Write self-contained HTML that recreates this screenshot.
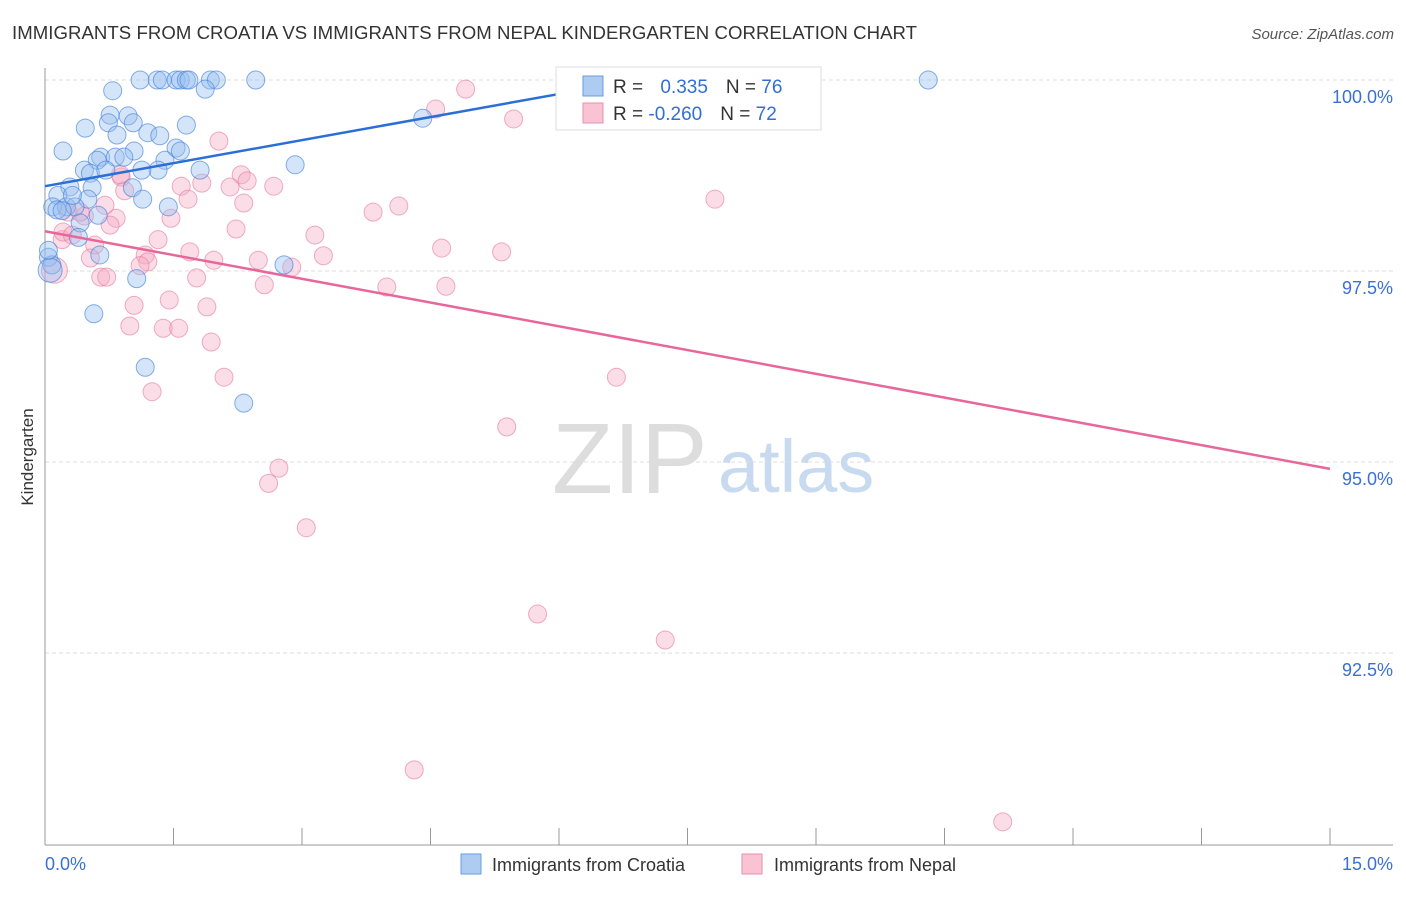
<!DOCTYPE html>
<html><head><meta charset="utf-8"><style>
body{margin:0;background:#fff;font-family:"Liberation Sans",sans-serif;}
svg text{font-family:"Liberation Sans",sans-serif;}
</style></head><body>
<svg id="chart" width="1406" height="892">
<text x="12" y="39" font-size="18.6" fill="#333" textLength="905">IMMIGRANTS FROM CROATIA VS IMMIGRANTS FROM NEPAL KINDERGARTEN CORRELATION CHART</text>
<text x="1394" y="39" font-size="15" fill="#555" font-style="italic" text-anchor="end">Source: ZipAtlas.com</text>
<text x="33" y="457" font-size="17" fill="#333" text-anchor="middle" transform="rotate(-90 33 457)">Kindergarten</text>
<text x="552" y="493" font-size="100" fill="#ddd" font-family="Liberation Serif">ZIP</text>
<text x="718" y="492" font-size="74" fill="#c8daf0">atlas</text>
<g id="grid"></g><g id="axes"></g><g id="pts"></g><g id="trends"></g>
<g>
<rect x="556" y="67" width="265" height="63" fill="#fff" stroke="#ddd"/>
<rect x="583" y="76" width="20" height="20" fill="#aecbf2" stroke="#6a9ce0"/>
<rect x="583" y="103" width="20" height="20" fill="#f9c3d3" stroke="#e891ae"/>
<text x="613" y="93" font-size="19" fill="#333">R = <tspan fill="#2f6fd6" dx="12">0.335</tspan><tspan dx="18" fill="#333">N = </tspan><tspan fill="#2f6fd6">76</tspan></text>
<text x="613" y="120" font-size="19" fill="#333">R = <tspan fill="#2f6fd6">-0.260</tspan><tspan dx="18" fill="#333">N = </tspan><tspan fill="#2f6fd6">72</tspan></text>
</g>
<g>
<rect x="461" y="854" width="20" height="20" fill="#aecbf2" stroke="#6a9ce0"/>
<text x="492" y="871" font-size="18" fill="#333">Immigrants from Croatia</text>
<rect x="742" y="854" width="20" height="20" fill="#f9c3d3" stroke="#e891ae"/>
<text x="774" y="871" font-size="18" fill="#333">Immigrants from Nepal</text>
</g>
</svg>
<script>
const yTicks=[100,97.5,95,92.5];
const yTickLabels=["100.0%","97.5%","95.0%","92.5%"];
const xTickCount=10;
const xEndLabels=["0.0%","15.0%"];
const croatiaX=[1.11,1.31,1.37,1.53,1.58,1.65,1.68,1.93,2.00,2.46,10.31,0.79,1.87,0.76,0.97,0.74,1.03,1.65,0.47,0.84,1.20,1.34,1.53,1.58,0.21,1.04,0.65,0.82,0.61,1.40,0.92,1.81,2.92,0.46,1.32,0.53,0.71,0.29,0.55,1.02,1.13,0.15,0.50,1.14,0.09,0.25,0.35,1.44,0.14,0.62,0.41,0.39,0.64,0.04,0.08,2.79,1.07,0.57,1.17,2.32,4.41,0.06,0.04,0.20,0.32];
const croatiaY=[100,100,100,100,100,100,100,100,100,100,100,99.86,99.88,99.54,99.53,99.44,99.44,99.41,99.37,99.28,99.31,99.27,99.11,99.07,99.07,99.07,98.99,98.99,98.95,98.95,98.99,98.82,98.89,98.82,98.82,98.78,98.82,98.60,98.59,98.59,98.82,98.49,98.44,98.44,98.34,98.34,98.34,98.34,98.30,98.23,98.13,97.94,97.71,97.68,97.58,97.58,97.40,96.94,96.24,95.77,99.50,97.51,97.77,98.29,98.49];
const nepalX=[6.20,6.79,7.53,6.32,4.56,4.91,5.47,2.03,7.82,4.13,3.83,1.59,1.83,2.67,2.29,2.36,2.16,2.32,1.67,1.47,0.89,0.93,0.83,0.76,0.27,0.46,0.58,1.32,1.69,3.15,3.25,2.23,4.63,5.33,1.17,1.20,1.11,1.97,2.49,2.88,2.56,3.99,4.68,1.77,0.65,0.72,1.04,1.45,1.89,0.99,1.38,1.56,1.94,1.25,2.09,6.67,5.39,2.73,2.61,3.05,5.75,7.24,4.31,11.18,0.20,0.21,0.11,0.32,0.41,0.53,0.88,0.70];
const nepalY=[100,100,100,99.69,99.62,99.88,99.49,99.20,98.44,98.35,98.27,98.61,98.65,98.61,98.76,98.68,98.60,98.39,98.44,98.19,98.73,98.55,98.19,98.10,98.27,98.22,97.84,97.91,97.75,97.97,97.70,98.05,97.80,97.75,97.71,97.62,97.57,97.64,97.64,97.55,97.32,97.29,97.30,97.41,97.42,97.42,97.05,97.12,97.03,96.78,96.75,96.75,96.57,95.92,96.11,96.11,95.46,94.92,94.72,94.14,93.01,92.67,90.97,90.29,97.91,98.01,97.51,97.97,98.27,97.67,98.76,98.36];
const croatiaTrend=[[0,98.61],[7.41,100.1]];
const nepalTrend=[[0,98.02],[15,94.91]];

const X=v=>45+v/15*1285;
const Y=v=>80+(100-v)/2.5*191;
const NS="http://www.w3.org/2000/svg";
function mk(t,a,p){const e=document.createElementNS(NS,t);for(const k in a)e.setAttribute(k,a[k]);p.appendChild(e);return e;}
const grid=document.getElementById('grid'),axes=document.getElementById('axes');
yTicks.forEach((v,i)=>{
 const l=mk('line',{x1:45,x2:1393,y1:Y(v),y2:Y(v),stroke:'#ddd','stroke-dasharray':'4,3'},grid);
 
 
 const t=mk('text',{x:1393,y:Y(v)+23,'font-size':18,fill:'#3a70d6','text-anchor':'end'},grid);
 t.textContent=yTickLabels[i];
 
 
});
const ya=mk('line',{x1:45,x2:45,y1:68,y2:845,stroke:'#999'},axes);


const xa=mk('line',{x1:45,x2:1393,y1:845,y2:845,stroke:'#999'},axes);


for(let i=0;i<=xTickCount;i++){
 const v=15*i/xTickCount;
 const t=mk('line',{x1:X(v),x2:X(v),y1:828,y2:845,stroke:'#999'},axes);
 
 
}
const t0=mk('text',{x:45,y:870,'font-size':18,fill:'#3a70d6'},axes);t0.textContent=xEndLabels[0];


const t1=mk('text',{x:1393,y:870,'font-size':18,fill:'#3a70d6','text-anchor':'end'},axes);t1.textContent=xEndLabels[1];


const pts=document.getElementById('pts');
nepalX.forEach((x,i)=>{
 const c=mk('circle',{cx:X(x),cy:Y(nepalY[i]),r:i==66?13:9,fill:'rgba(246,170,195,0.4)',stroke:'rgba(232,120,160,0.6)'},pts);
 
 
});
croatiaX.forEach((x,i)=>{
 const c=mk('circle',{cx:X(x),cy:Y(croatiaY[i]),r:i==61?12:9,fill:'rgba(150,190,240,0.4)',stroke:'rgba(70,130,220,0.65)'},pts);
 
 
});
const tr=document.getElementById('trends');
const bl=mk('line',{x1:X(croatiaTrend[0][0]),y1:Y(croatiaTrend[0][1]),x2:X(croatiaTrend[1][0]),y2:Y(croatiaTrend[1][1]),stroke:'#2a6fd6','stroke-width':2.5},tr);


const pl=mk('line',{x1:X(nepalTrend[0][0]),y1:Y(nepalTrend[0][1]),x2:X(nepalTrend[1][0]),y2:Y(nepalTrend[1][1]),stroke:'#e8679a','stroke-width':2.5},tr);


</script>
</body></html>
